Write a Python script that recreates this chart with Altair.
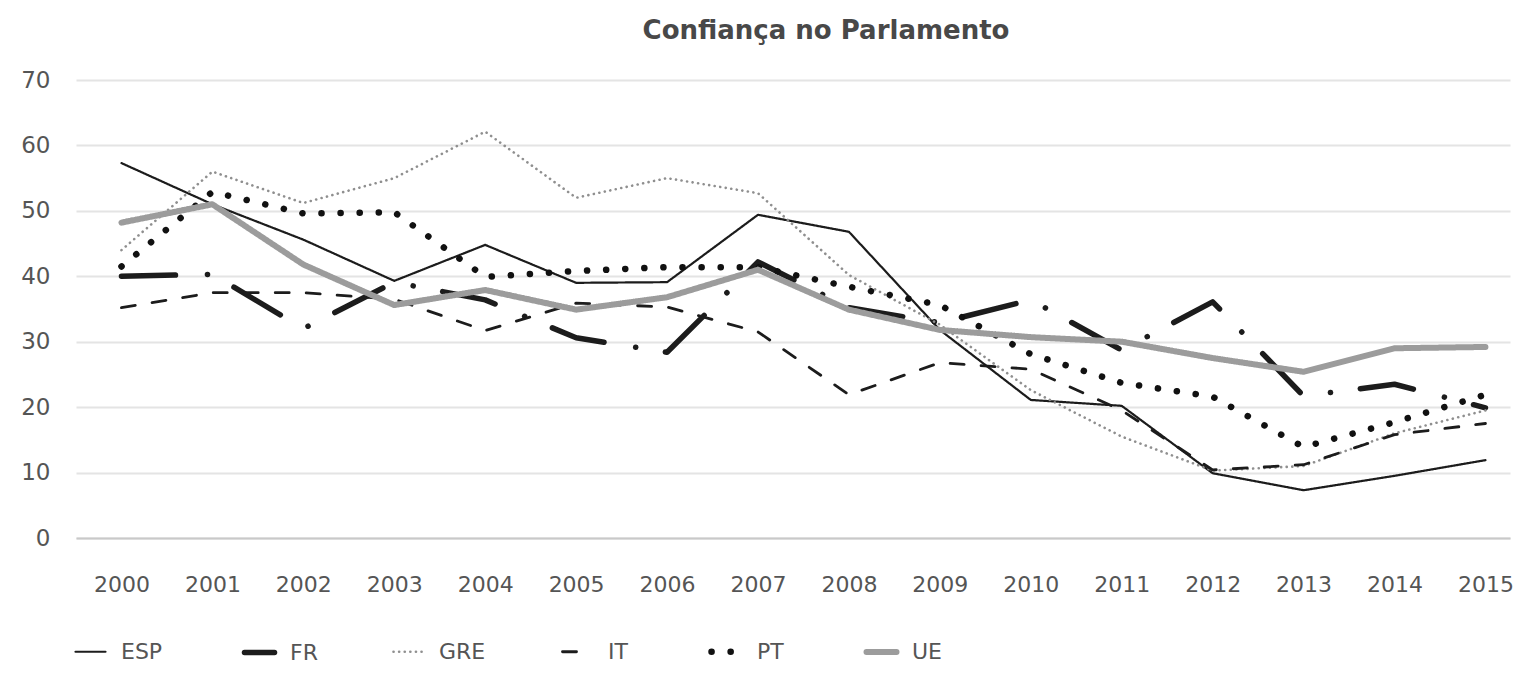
import altair as alt
import pandas as pd

years = list(range(2000, 2016))
series = ["ESP", "FR", "GRE", "IT", "PT", "UE"]

esp = [57.3, 51.0, 45.6, 39.3, 44.8, 39.0, 39.1, 49.4, 46.8, 31.8, 21.1, 20.2, 9.9, 7.3, 9.5, 11.9]
fr = [40.0, 40.3, 32.0, 39.1, 36.4, 30.6, 28.4, 42.2, 35.2, 32.9, 36.4, 28.7, 36.1, 21.7, 23.5, 19.9]
gre = [44.0, 56.0, 51.2, 55.0, 62.1, 52.0, 55.0, 52.7, 40.2, 32.6, 22.6, 15.5, 10.3, 11.0, 16.0, 19.5]
it = [35.2, 37.5, 37.5, 36.5, 31.7, 35.9, 35.3, 31.5, 21.9, 26.8, 25.8, 19.5, 10.4, 11.2, 15.8, 17.5]
pt = [41.5, 52.9, 49.6, 49.8, 39.9, 40.8, 41.4, 41.4, 38.4, 35.6, 28.1, 23.7, 21.6, 13.9, 17.7, 21.9]
ue = [48.2, 51.0, 41.8, 35.6, 37.9, 34.9, 36.8, 41.0, 34.9, 31.8, 30.7, 30.0, 27.5, 25.4, 29.0, 29.2]

y_ticks = [0, 10, 20, 30, 40, 50, 60, 70]

colors = ["#1c1c1c", "#1c1c1c", "#8f8f8f", "#1c1c1c", "#111111", "#9c9c9c"]
dashes = [[1, 0], [54, 32, 0.1, 30], [0.1, 5.5], [14, 17], [0.1, 19], [1, 0]]
widths = [2.2, 5.5, 2.6, 2.8, 6.5, 6.0]

rows = []
for name, vals in zip(series, [esp, fr, gre, it, pt, ue]):
    for yr, v in zip(years, vals):
        rows.append({"ano": yr, "pais": name, "valor": v})
df = pd.DataFrame(rows)

FONT = "DejaVu Sans"
TXT = "#555555"

leg = alt.Legend(title=None)

chart = alt.Chart(df).mark_line(strokeCap="round", strokeJoin="round").encode(
    x=alt.X("ano:Q",
            scale=alt.Scale(domain=[1999.5, 2015.27], nice=False, zero=False),
            axis=alt.Axis(values=years, format="d", title=None, grid=False, ticks=False,
                          domain=True, domainColor="#c9c9c9", domainWidth=2,
                          labelPadding=36, labelFontSize=22, labelFont=FONT, labelColor=TXT)),
    y=alt.Y("valor:Q",
            scale=alt.Scale(domain=[0, 70], nice=False),
            axis=alt.Axis(values=y_ticks, title=None, grid=True, gridColor="#e4e4e4", gridWidth=2,
                          ticks=False, domain=False, labelPadding=26, labelFontSize=23,
                          labelFont=FONT, labelColor=TXT)),
    color=alt.Color("pais:N", scale=alt.Scale(domain=series, range=colors), legend=leg),
    strokeDash=alt.StrokeDash("pais:N", scale=alt.Scale(domain=series, range=dashes), legend=leg),
    strokeWidth=alt.StrokeWidth("pais:N",
                                scale=alt.Scale(type="ordinal", domain=series, range=widths),
                                legend=leg),
).properties(
    width=1434,
    height=458,
    autosize=alt.AutoSizeParams(type="none"),
    padding={"left": 68, "top": 72, "right": 4, "bottom": 130},
    title=alt.TitleParams("Confiança no Parlamento", fontSize=26, font=FONT, fontWeight="bold",
                          color="#484848", anchor="middle", dx=33, offset=25),
).configure_view(
    stroke=None
).configure_legend(
    orient="none", legendX=-4, legendY=553, direction="horizontal", columns=6,
    symbolType="stroke", symbolSize=900, labelFontSize=22, labelFont=FONT, labelColor=TXT,
    columnPadding=70, labelOffset=12
)

# round caps for the legend symbols, so the dotted patterns show as dots
legend_patch = [
    {"op": "add", "path": "/legends/0/encode",
     "value": {"symbols": {"update": {"strokeCap": {"value": "round"},
                                      "fill": {"value": "transparent"}}}}}
]

chart.save("out.html", embed_options={"renderer": "svg", "actions": False, "patch": legend_patch})
